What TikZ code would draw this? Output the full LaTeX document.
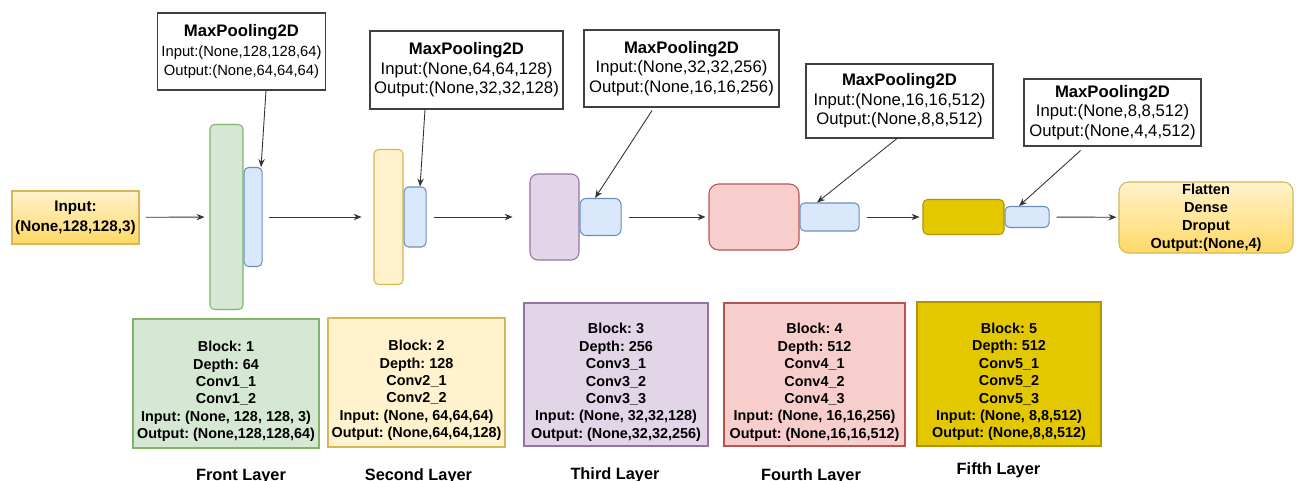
\documentclass[tikz,border=0pt]{standalone}
\usepackage{fontspec}
\setmainfont{Liberation Sans}
\usetikzlibrary{arrows.meta, positioning}
\definecolor{vggreen}{HTML}{D5E8D4}
\definecolor{vggreenline}{HTML}{82B366}
\definecolor{vgyellow}{HTML}{FFF2CC}
\definecolor{vgyellowline}{HTML}{D6B656}
\definecolor{vgpurple}{HTML}{E1D5E7}
\definecolor{vgpurpleline}{HTML}{9673A6}
\definecolor{vgred}{HTML}{F8CECC}
\definecolor{vgredline}{HTML}{B85450}
\definecolor{vgblue}{HTML}{DAE8FC}
\definecolor{vgblueline}{HTML}{6C8EBF}
\definecolor{vggold}{HTML}{E3C800}
\definecolor{vggoldline}{HTML}{B09500}
\definecolor{vgshade}{HTML}{FFD966}
\definecolor{arrowgray}{HTML}{333333}

\newcommand{\poolcaption}[2]{\textbf{\fontsize{9.5}{11}\selectfont MaxPooling2D}\\Input:(None,#1)\\Output:(None,#2)}
% first line of a block card, with some room above it
\newcommand{\blockhead}[1]{\rule{0pt}{15pt}Block: #1}

\begin{document}
\frenchspacing
\begin{tikzpicture}[
    >={Stealth[length=4.5pt,width=3.6pt]},
    bar/.style={draw=#1line, fill=#1, rounded corners=2.6pt, line width=0.6pt, inner sep=0pt},
    pool/.style={bar=vgblue},
    endbox/.style={draw=vgyellowline, top color=vgyellow, bottom color=vgshade, line width=0.6pt,
                   align=center, inner sep=1pt},
    poolinfo/.style={draw=black!75, fill=white, line width=0.6pt, align=center, inner sep=2pt,
                     font=\fontsize{9.5}{11}\selectfont},
    info/.style={draw=#1line, fill=#1, line width=0.6pt, align=center, inner sep=1pt,
                 font=\bfseries\fontsize{8.2}{9.9}\selectfont},
    edge/.style={->, draw=arrowgray, line width=0.5pt},
    layername/.style={font=\bfseries\fontsize{9.3}{11}\selectfont, anchor=base},
]

% Canvas
\path[use as bounding box, fill=white] (0,0) rectangle (25.96,-9.62);

% =============================================
% MAIN ROW: input -> conv blocks -> output
% =============================================
\node[endbox, minimum width=2.54cm, minimum height=1.06cm, font=\bfseries\fontsize{8.7}{11.3}\selectfont]
      (inp) at (1.51,-4.35) {Input:\\(None,128,128,3)};

% Block 1
\node[bar=vggreen, minimum width=0.66cm, minimum height=3.70cm] (b1) at (4.53,-4.34) {};
\node[pool, right=0pt of b1, minimum width=0.36cm, minimum height=1.98cm] (p1) {};

% Block 2
\node[bar=vgyellow, minimum width=0.58cm, minimum height=2.70cm] (b2) at (7.77,-4.34) {};
\node[pool, right=0pt of b2, minimum width=0.44cm, minimum height=1.20cm] (p2) {};

% Block 3
\node[bar=vgpurple, rounded corners=4.5pt, minimum width=0.98cm, minimum height=1.72cm] (b3) at (11.09,-4.34) {};
\node[pool, rounded corners=3.5pt, right=0pt of b3, minimum width=0.82cm, minimum height=0.74cm] (p3) {};

% Block 4
\node[bar=vgred, rounded corners=5.5pt, minimum width=1.80cm, minimum height=1.32cm] (b4) at (15.08,-4.34) {};
\node[pool, right=0pt of b4, minimum width=1.18cm, minimum height=0.56cm] (p4) {};

% Block 5
\node[bar=vggold, minimum width=1.62cm, minimum height=0.70cm] (b5) at (19.27,-4.34) {};
\node[pool, right=0pt of b5, minimum width=0.88cm, minimum height=0.42cm] (p5) {};

% Classifier head
\node[endbox, rounded corners=5.5pt, minimum width=3.48cm, minimum height=1.42cm,
      font=\bfseries\fontsize{8.3}{10.2}\selectfont]
      (out) at (24.12,-4.35) {Flatten\\Dense\\Droput\\Output:(None,4)};

% =============================================
% MAX POOLING CAPTIONS
% =============================================
\node[poolinfo, minimum width=3.26cm, minimum height=1.54cm, font=\fontsize{8.4}{11}\selectfont]
      (mp1) at (4.83,-1.03) {\poolcaption{128,128,64}{64,64,64}};
\node[poolinfo, minimum width=3.86cm, minimum height=1.56cm] (mp2) at (9.33,-1.40) {\poolcaption{64,64,128}{32,32,128}};
\node[poolinfo, minimum width=3.90cm, minimum height=1.54cm] (mp3) at (13.63,-1.37) {\poolcaption{32,32,256}{16,16,256}};
\node[poolinfo, minimum width=3.74cm, minimum height=1.48cm] (mp4) at (17.99,-2.02) {\poolcaption{16,16,512}{8,8,512}};
\node[poolinfo, minimum width=3.54cm, minimum height=1.34cm] (mp5) at (22.25,-2.25) {\poolcaption{8,8,512}{4,4,512}};

% =============================================
% BLOCK DETAILS
% =============================================
\node[info=vggreen, minimum width=3.72cm, minimum height=2.58cm] (i1) at (4.52,-7.67)
      {\blockhead{1}\\Depth: 64\\Conv1\_1\\Conv1\_2\\Input: (None, 128, 128, 3)\\Output: (None,128,128,64)};
\node[info=vgyellow, minimum width=3.54cm, minimum height=2.58cm] (i2) at (8.33,-7.65)
      {\blockhead{2}\\Depth: 128\\Conv2\_1\\Conv2\_2\\Input: (None, 64,64,64)\\Output: (None,64,64,128)};
\node[info=vgpurple, minimum width=3.68cm, minimum height=2.86cm] (i3) at (12.32,-7.49)
      {\blockhead{3}\\Depth: 256\\Conv3\_1\\Conv3\_2\\Conv3\_3\\Input: (None, 32,32,128)\\Output: (None,32,32,256)};
\node[info=vgred, minimum width=3.62cm, minimum height=2.86cm] (i4) at (16.29,-7.49)
      {\blockhead{4}\\Depth: 512\\Conv4\_1\\Conv4\_2\\Conv4\_3\\Input: (None, 16,16,256)\\Output: (None,16,16,512)};
\node[info=vggold, minimum width=3.68cm, minimum height=2.88cm] (i5) at (20.18,-7.48)
      {\blockhead{5}\\Depth: 512\\Conv5\_1\\Conv5\_2\\Conv5\_3\\Input: (None, 8,8,512)\\Output: (None,8,8,512)};

% Layer names
\node[layername] (l1) at (4.82,-9.60) {Front Layer};
\node[layername] (l2) at (8.37,-9.60) {Second Layer};
\node[layername] (l3) at (12.30,-9.58) {Third Layer};
\node[layername] (l4) at (16.22,-9.60) {Fourth Layer};
\node[layername] (l5) at (19.97,-9.48) {Fifth Layer};

% === ARROWS: data flow ===
\draw[edge, shorten <=3.4pt, shorten >=2.8pt] (inp) -- (b1);
\draw[edge, shorten <=3.4pt, shorten >=6.8pt] (p1) -- (b2);
\draw[edge, shorten <=4.5pt, shorten >=9.6pt] (p2) -- (b3);
\draw[edge, shorten <=4pt, shorten >=1.7pt] (p3) -- (b4);
\draw[edge, shorten <=4pt, shorten >=1.7pt] (p4) -- (b5);
\draw[edge, shorten <=4pt, shorten >=1.2pt] (p5) -- (out);

% Pooling captions
\draw[edge] ([xshift=0.49cm]mp1.south) -- ([xshift=0.16cm]p1.north);
\draw[edge] ([xshift=-0.83cm]mp2.south) -- ([xshift=0.10cm]p2.north);
\draw[edge, shorten <=2pt] ([xshift=-0.55cm]mp3.south) -- ([xshift=-0.11cm]p3.north);
\draw[edge] ([xshift=-0.05cm]mp4.south) -- ([xshift=-0.25cm]p4.north);
\draw[edge, shorten <=3.4pt] ([xshift=-0.55cm]mp5.south) -- ([xshift=-0.16cm]p5.north);

\end{tikzpicture}
\end{document}
